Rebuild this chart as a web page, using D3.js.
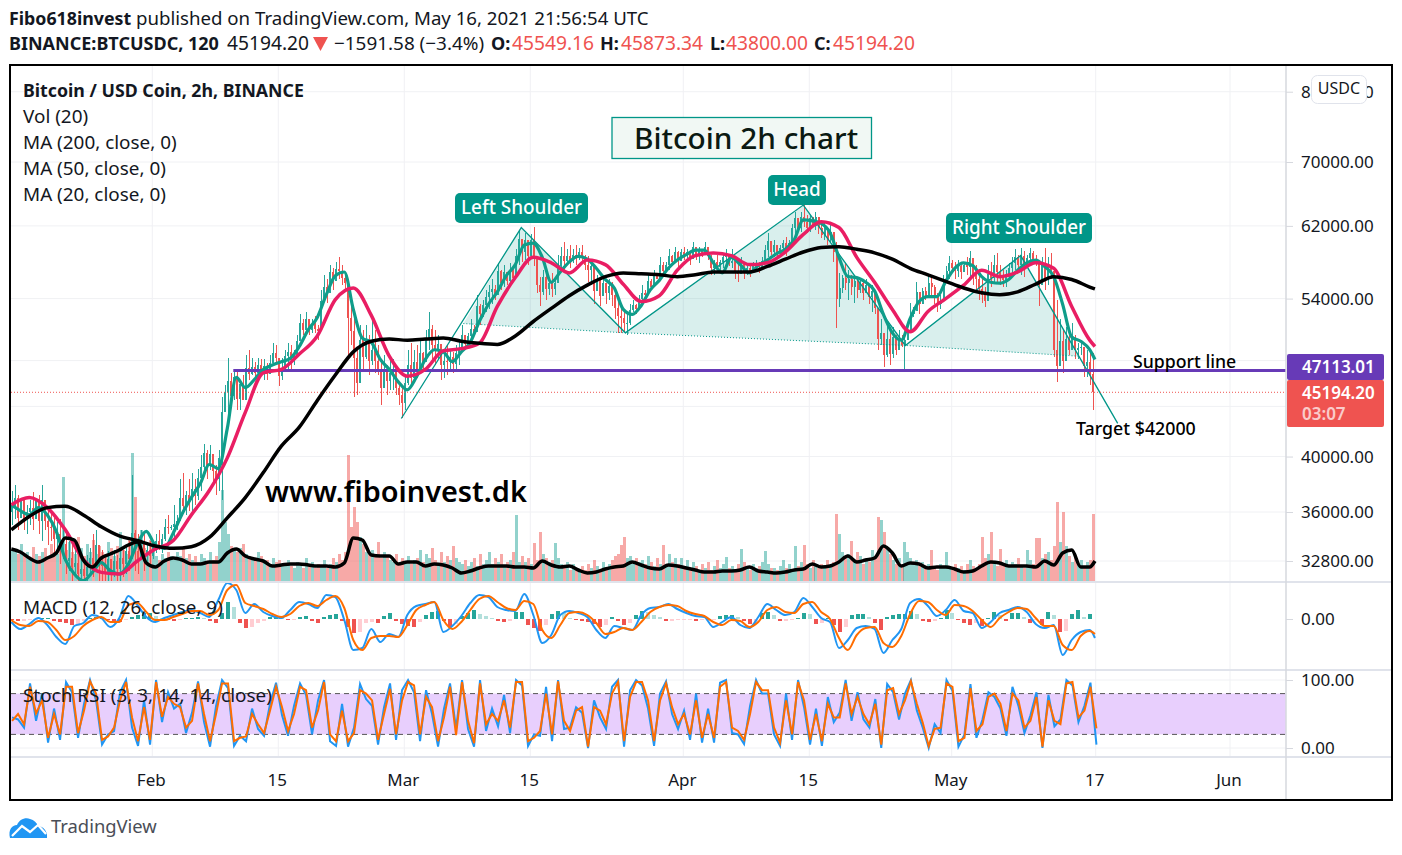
<!DOCTYPE html>
<html>
<head>
<meta charset="utf-8">
<script src="https://cdn.jsdelivr.net/npm/d3@7/dist/d3.min.js"></script>
<style>
  body { margin: 0; background: #fff; }
  text { font-family: "Noto Sans", sans-serif; fill: #131722; }
  .axis text { font-size: 17px; }
  .axis line { stroke: #d6d8de; }
  .axis path { display: none; }
</style>
</head>
<body>
<div id="chart"></div>
<script>
// all prices in thousand USD, one candle every 8 hours from chartStart
const candleClose = [
  36.4,37.0,35.6,36.8,35.5,36.0,36.3,35.5,36.9,35.4,36.8,35.4,35.0,34.9,34.2,34.5,33.6,33.9,32.8,33.0,32.4,32.7,32.0,32.3,31.9,32.4,33.0,32.5,33.8,32.7,
  32.5,32.0,32.9,32.1,32.8,32.3,33.0,32.6,33.4,32.9,34.6,33.4,32.9,34.1,33.2,33.5,33.1,33.7,34.1,33.7,34.2,35.0,34.9,35.0,35.2,35.4,37.0,36.4,37.2,36.8,
  37.6,37.1,38.4,39.2,40.3,39.3,40.2,38.9,38.3,39.9,43.5,45.2,46.2,44.9,46.5,44.6,45.9,44.5,47.3,46.8,47.4,46.9,47.6,47.0,47.5,46.8,47.8,48.7,48.2,46.6,
  47.3,48.4,48.8,48.2,48.4,49.8,51.6,50.9,51.9,50.9,51.5,51.0,50.8,53.8,55.2,54.6,56.8,55.8,57.1,56.9,56.2,55.6,52.0,50.8,48.2,46.0,49.9,48.3,49.8,48.0,
  49.0,48.0,47.2,45.6,47.0,46.2,46.9,47.0,45.6,45.0,44.3,46.0,47.6,46.4,47.9,47.1,48.7,47.9,50.0,51.0,49.4,49.0,49.5,47.6,48.0,47.9,48.3,47.7,48.7,49.0,
  50.4,49.5,50.3,51.0,50.7,53.2,52.4,53.3,54.2,54.7,55.0,54.4,56.9,55.6,56.8,55.8,57.0,56.2,58.6,60.5,59.0,60.4,58.6,60.4,58.2,55.4,54.7,56.3,55.0,55.6,
  55.0,55.6,57.5,58.6,58.0,58.6,58.0,58.7,58.3,59.0,58.4,57.6,57.0,57.5,54.8,56.0,54.3,55.6,54.6,55.3,54.4,53.0,52.2,52.0,51.6,51.6,52.8,53.3,52.9,54.0,
  54.6,54.4,55.8,55.2,56.4,56.1,57.6,56.9,57.6,58.6,57.9,59.0,58.0,59.0,58.5,59.0,58.2,59.6,58.6,59.2,58.7,59.6,58.5,57.2,57.9,57.3,57.9,58.4,58.6,57.8,
  58.0,56.9,56.6,57.9,56.9,57.2,56.9,57.4,57.7,57.3,58.0,59.2,60.2,59.0,59.8,59.0,59.4,60.0,59.2,60.0,61.7,62.9,61.8,63.0,62.4,61.7,62.9,62.0,63.1,61.8,
  60.9,61.8,60.4,61.3,59.0,54.0,55.1,56.2,55.6,56.0,55.2,55.8,54.9,55.6,54.6,55.4,54.2,54.8,53.0,50.0,50.6,48.5,50.0,48.6,50.2,49.0,50.0,49.4,49.9,50.8,
  52.4,52.7,54.7,53.4,54.8,54.2,55.6,55.2,54.2,53.4,53.9,55.9,56.9,57.8,57.2,56.9,57.4,56.8,57.6,57.3,58.3,56.5,56.0,55.0,54.4,53.8,56.6,56.2,57.6,56.8,
  56.2,55.9,56.3,57.2,57.8,58.4,57.6,58.6,57.5,58.3,58.9,58.2,58.0,55.4,57.8,56.2,57.4,56.9,49.0,47.5,49.8,48.0,50.0,49.0,50.1,49.0,49.2,49.3,47.5,47.9,
  46.8,45.2
];
const candleHigh = [
  37.5,37.9,37.2,36.8,37.0,36.5,36.8,37.4,37.0,37.2,37.9,36.8,36.1,35.9,35.6,35.3,35.5,34.8,34.5,34.1,33.8,33.5,33.2,33.0,32.9,33.2,33.6,34.5,34.8,33.8,
  33.5,33.2,33.4,32.9,33.5,33.2,33.4,33.5,33.8,34.1,38.6,34.8,34.5,34.8,34.5,33.8,34.1,34.1,34.5,34.8,34.5,35.5,35.8,35.1,36.5,35.8,38.3,38.8,37.5,38.3,
  38.8,38.3,39.1,40.1,41.0,40.5,40.9,39.7,39.4,40.5,44.8,45.8,48.2,46.9,47.0,47.2,46.3,46.7,48.5,49.0,48.2,47.9,48.2,48.1,48.1,47.8,48.5,49.6,49.4,48.1,
  48.2,49.0,49.6,49.4,49.0,50.4,52.4,51.9,52.6,51.4,51.9,52.2,51.4,54.9,56.5,56.0,57.6,57.2,57.9,58.4,57.6,56.8,56.0,53.9,52.9,49.3,51.4,50.9,51.4,50.4,
  51.9,50.9,49.4,48.1,48.5,47.6,48.3,48.1,46.7,45.8,45.7,46.7,49.0,49.6,49.0,49.4,49.9,48.8,50.9,52.6,51.4,50.9,50.4,49.4,49.0,49.4,49.0,48.8,49.4,49.9,
  51.4,50.4,50.6,51.9,51.4,54.4,53.4,53.9,54.9,55.4,56.0,55.4,57.8,57.0,57.6,56.8,57.8,57.6,59.3,61.5,60.4,61.2,59.8,61.0,61.9,57.6,56.3,57.0,56.5,56.0,
  56.7,56.0,58.7,59.6,60.1,59.3,59.8,59.3,59.8,59.5,59.8,58.7,58.5,58.1,57.6,56.5,56.3,56.5,55.4,56.0,55.7,54.9,53.9,53.6,52.9,52.6,53.4,53.9,53.4,54.4,
  55.4,54.9,56.5,56.0,57.0,56.5,58.4,57.9,57.9,59.3,58.7,59.6,59.1,59.3,59.6,59.3,59.1,60.1,59.3,59.6,59.3,60.1,59.3,58.7,58.1,58.7,58.1,58.7,59.3,58.7,
  59.3,58.4,57.9,58.4,57.6,57.6,57.4,57.9,58.1,57.9,58.4,59.8,61.2,59.8,60.4,59.8,59.8,60.4,60.7,60.4,62.2,63.6,62.2,63.6,64.8,63.3,63.3,63.0,63.7,62.7,
  62.5,62.5,61.9,62.2,61.0,60.1,56.7,56.5,57.8,57.0,56.5,56.3,56.0,56.1,55.7,56.0,55.4,55.4,53.9,52.2,51.9,50.2,51.4,50.9,51.2,50.4,50.9,50.4,50.6,51.4,
  53.6,53.1,55.7,54.4,55.1,55.2,56.5,56.5,55.4,54.6,54.4,56.5,57.4,58.5,58.1,57.9,58.1,57.6,57.9,58.4,59.1,57.6,57.6,56.7,56.0,55.2,57.6,57.9,58.7,58.9,
  57.6,57.0,57.0,57.8,58.4,59.3,58.7,59.5,59.1,58.7,59.5,59.1,58.7,57.8,58.4,59.5,58.4,58.9,56.3,53.9,51.9,50.9,51.2,50.4,51.6,50.4,49.6,49.9,49.3,49.0,
  49.0,48.7
];
const candleLow = [
  35.1,35.5,34.8,35.6,34.8,34.5,35.1,34.8,35.5,34.5,34.1,34.8,33.8,34.1,33.2,33.5,32.6,32.9,32.0,32.2,31.6,31.8,31.3,31.6,31.0,31.3,32.0,31.8,32.6,31.6,
  31.5,31.3,31.6,31.3,31.8,31.5,31.6,31.8,32.0,32.2,32.9,32.2,32.0,32.9,32.2,32.7,32.6,32.9,33.3,33.5,33.3,34.1,34.5,34.8,34.1,34.8,35.9,36.1,35.8,36.1,
  36.1,36.5,36.8,37.5,38.8,38.3,39.0,37.9,37.2,37.5,36.8,45.1,43.4,43.9,44.5,43.7,43.7,45.0,44.8,46.3,46.7,46.4,46.5,46.7,46.3,46.3,47.2,47.8,47.6,45.7,
  46.3,47.0,47.0,47.2,47.6,49.0,49.9,50.4,50.6,50.4,50.6,50.6,49.9,52.6,53.9,53.6,55.4,54.9,56.0,56.0,55.4,54.9,48.3,49.4,44.8,45.0,47.8,47.2,48.1,46.7,
  47.6,46.9,46.7,44.1,45.8,45.0,45.4,45.4,45.0,44.1,43.0,43.7,45.8,45.7,46.7,46.4,46.9,47.2,49.0,49.0,48.1,47.6,48.1,46.3,46.4,46.7,47.0,46.9,47.2,47.6,
  49.0,49.3,49.4,49.9,50.4,50.9,51.4,52.1,52.6,52.9,53.4,53.9,54.6,54.9,55.2,55.4,55.4,56.0,57.0,57.6,57.9,58.1,57.6,58.7,57.4,54.6,53.2,54.4,53.9,54.4,
  54.2,54.4,56.5,57.0,56.7,57.6,57.2,57.8,57.6,58.1,57.8,57.0,55.7,55.4,53.4,54.9,53.2,54.4,53.4,53.9,53.2,51.9,50.6,50.6,50.7,50.4,51.4,52.6,52.4,53.6,
  53.6,53.9,54.6,54.9,55.4,56.0,56.3,56.5,57.0,57.0,57.6,58.1,57.0,58.4,58.1,57.9,57.6,58.4,58.1,57.8,58.4,58.7,58.1,56.5,56.5,57.0,56.7,57.2,57.6,57.4,
  57.2,56.0,55.7,56.8,56.1,56.5,56.3,56.7,57.0,56.7,57.6,57.8,58.4,58.7,58.4,58.5,58.7,59.1,58.5,59.3,60.7,61.0,61.5,61.3,61.9,61.2,61.3,61.9,61.5,61.0,
  60.6,60.4,59.8,60.1,57.9,51.1,53.1,54.6,54.9,53.9,54.4,53.6,54.1,54.6,53.9,54.6,53.4,52.6,52.4,49.0,49.4,47.4,48.3,47.6,48.2,48.5,49.0,49.3,47.0,50.1,
  51.6,52.1,52.9,52.4,53.6,53.9,54.2,54.2,53.4,52.6,52.9,54.9,56.0,56.1,56.8,56.0,56.3,56.0,56.8,56.5,56.3,55.4,54.7,53.9,53.6,53.1,55.7,55.2,55.7,55.7,
  55.4,55.2,55.2,56.0,56.5,57.0,56.7,56.5,56.3,57.6,57.4,57.9,57.4,53.2,55.4,54.9,55.4,56.0,48.3,46.1,48.3,46.9,49.0,48.5,49.0,48.1,48.1,48.5,46.5,46.5,
  45.8,43.7
];
const volume = [
  32,30,28,38,26,30,24,35,28,26,30,34,25,38,30,28,36,105,32,40,30,28,45,34,26,38,30,42,28,36,
  30,28,40,34,26,36,50,32,28,44,129,85,40,52,34,30,42,36,26,22,28,24,30,26,22,30,26,34,24,28,
  22,26,20,28,24,18,30,22,26,40,92,60,48,36,32,30,34,38,28,26,22,24,30,26,20,22,18,24,20,22,
  18,16,22,16,14,20,18,14,24,16,20,14,18,16,22,14,18,24,20,28,22,30,127,55,75,60,45,38,30,28,
  32,26,40,24,30,26,22,20,28,18,24,20,26,18,22,24,32,20,28,24,34,22,18,30,20,26,22,36,24,20,
  18,22,16,20,24,16,28,18,22,30,18,24,20,28,16,20,22,30,67,20,26,20,24,18,39,22,50,28,24,20,
  22,39,24,18,14,20,12,18,14,10,16,12,18,14,22,16,12,20,14,18,22,26,28,37,45,24,26,18,24,20,
  22,18,26,20,16,24,18,37,16,28,20,24,18,24,16,22,14,20,16,12,18,14,20,12,16,22,14,18,25,14,
  16,12,18,33,20,14,12,18,14,16,20,31,18,14,14,12,16,22,14,18,12,36,16,20,37,18,14,22,16,14,
  18,14,22,16,20,68,48,30,24,28,41,22,30,26,18,24,20,32,26,65,62,50,35,28,22,18,24,16,40,30,
  24,18,22,16,20,14,18,32,16,12,18,14,30,14,12,18,14,16,12,18,22,16,14,18,45,24,28,50,20,16,
  33,18,22,16,20,18,24,16,14,32,22,18,44,44,24,28,30,22,36,80,40,70,36,26,20,24,18,22,16,20,
  22,68
];
// moving averages: ma20 and volMa one point a day, ma50 and ma200 one every two days, last point is the live bar
const ma20 = [
  36.5,36.1,35.8,36.3,35.8,34.7,32.9,32.0,31.6,32.1,32.7,32.2,32.0,32.6,33.9,34.7,33.8,33.6,34.6,35.9,
  37.0,38.0,39.4,39.1,42.2,46.5,45.6,46.3,47.2,47.6,47.9,48.2,49.3,50.9,52.1,54.4,56.4,56.8,52.9,50.1,
  49.7,48.1,47.2,46.1,45.4,46.5,48.1,49.0,48.8,47.9,48.8,49.7,51.7,53.4,54.7,56.4,57.6,59.8,60.0,58.4,
  55.7,56.8,57.9,58.5,58.2,57.2,56.0,55.1,52.9,52.4,53.3,54.9,55.9,57.2,58.1,58.7,59.2,59.2,57.8,56.7,
  58.4,57.6,56.7,57.5,58.1,58.8,59.3,60.4,62.7,62.6,62.3,61.2,58.4,56.3,56.2,55.7,54.8,52.4,50.6,49.9,
  52.0,53.7,54.2,54.2,55.8,57.2,57.8,57.5,56.3,55.7,55.6,56.0,57.0,57.8,58.1,57.4,56.3,53.4,50.2,49.8,49.0,48.1
];
const ma50 = [
  36.5,37.0,36.3,34.8,32.9,32.1,32.0,32.8,33.55,34.1,
  35.8,37.5,39.9,43.5,46.9,47.2,48.6,50.3,53.9,55.1,
  52.3,48.4,46.6,47.2,48.9,49.1,49.6,53.2,56.2,58.4,
  57.8,56.7,58.1,57.6,55.5,53.7,54.3,57.0,58.6,58.9,
  58.6,57.6,57.8,59.0,61.0,62.5,61.8,58.4,55.7,52.9,
  50.7,52.7,54.0,55.4,57.0,56.3,56.8,57.8,57.2,53.2,49.9,49.3
];
const ma200 = [
  34.8,35.7,36.3,36.4,35.8,35.0,34.4,34.1,33.75,33.6,
  33.7,34.3,35.6,37.0,38.8,40.8,42.3,44.5,46.7,48.8,
  49.8,50.0,49.9,50.0,50.1,49.8,49.6,49.5,50.3,51.7,
  53.0,54.3,55.4,56.3,56.7,56.6,56.5,56.3,56.5,56.8,
  56.8,56.8,57.4,58.2,59.0,59.5,59.6,59.3,58.9,58.2,
  57.2,56.5,55.8,55.1,54.6,54.4,54.7,55.5,56.3,56.0,55.2,55.0
];
const volMa = [
  33,30,24,20,24,29,44,42,22,15,24,28,32,37,40,19,15,21,24,22,
  18,18,20,20,29,33,26,23,21,16,17,18,18,17,16,16,15,19,44,42,
  27,26,26,18,20,20,16,18,17,14,9,11,14,16,16,16,15,15,14,21,
  17,15,16,12,9,10,13,15,16,20,17,14,13,17,16,14,12,10,10,11,
  11,12,15,11,10,9,10,12,13,18,15,16,20,26,20,22,24,36,29,16,
  19,18,14,15,15,13,10,11,16,20,19,16,16,16,15,21,17,29,32,15,15,21
];
// macd pane, one point a day for the lines
const macdLine = [
  -150,-500,-250,50,-300,-900,-1250,-350,-200,200,50,-400,50,1150,700,100,-150,50,200,350,
  450,300,100,950,1800,1450,300,750,350,150,50,450,850,750,550,1200,1100,-50,-1550,-1450,
  -500,-1150,-750,-900,200,650,750,850,-650,-350,150,800,1200,1100,600,450,400,1250,200,-1200,
  -800,200,400,300,100,-550,-950,-350,-450,-550,200,550,600,750,500,300,150,100,-400,-150,
  100,-300,-450,100,750,450,200,350,1050,600,50,-150,-1450,-1050,-450,-350,-500,-1700,-1050,-500,
  800,1000,650,150,450,950,400,300,-450,-150,300,450,600,350,-250,-450,-300,-1800,-1050,-650,-550,-950
];
const macdSignal = [
  -50,-300,-350,-100,-150,-550,-1050,-850,-350,-50,100,-150,-150,700,800,350,-50,-50,100,250,
  400,400,200,450,1450,1700,800,650,500,250,100,250,650,800,650,950,1150,550,-1050,-1550,
  -950,-850,-850,-900,-300,450,700,850,-50,-500,-150,450,1000,1150,850,550,450,900,750,-550,
  -950,-300,300,350,200,-200,-750,-650,-450,-550,-150,350,600,700,650,400,250,150,-150,-300,
  -50,-100,-400,-150,450,600,350,300,750,850,350,0,-950,-1550,-800,-450,-400,-1200,-1400,-850,
  250,900,850,450,200,700,650,400,-50,-400,50,350,550,500,50,-350,-350,-1300,-1550,-850,-600,-750
];
// histogram and stoch rsi are read every 16 hours
const macdHist = [
  -50,-100,-100,-50,-50,50,50,-100,-150,-200,-300,-250,-100,50,100,
  100,-50,-100,-150,-50,100,200,300,300,150,50,-50,-100,-50,50,
  50,100,50,-100,-200,300,850,600,-200,-450,-400,-200,-100,100,150,
  100,-50,-50,100,150,-100,-200,100,200,250,-100,-400,-700,-650,-200,
  -150,-200,150,300,-100,-250,-350,-400,-150,200,350,400,-100,-400,-250,
  150,300,450,250,150,50,-100,-150,-100,350,350,-300,-450,-600,-300,
  250,400,300,50,-50,-100,-150,-250,-400,-300,100,-100,-300,-200,200,
  400,350,200,100,-100,-100,-50,-50,-50,-100,-50,-50,-50,150,200,
  200,100,-100,-250,-200,300,350,200,-100,-100,-50,50,300,250,-250,
  -200,50,-300,-650,-400,200,250,250,100,-200,-550,100,200,250,250,
  400,250,-100,-150,-100,50,450,300,-50,-200,-300,-200,-350,50,350,
  200,-100,300,300,100,-200,-50,-300,350,200,-650,-600,250,450,100,250
];
const stochK = [
  45,42,30,95,40,80,8,58,12,97,82,15,65,100,70,5,20,25,82,100,
  30,3,70,5,100,38,82,58,65,22,52,98,38,2,62,100,88,3,18,10,
  58,28,18,65,96,48,18,62,95,78,20,70,100,10,3,65,2,30,94,72,
  62,5,60,95,12,85,100,82,10,85,50,2,58,95,
  28,100,28,2,100,25,58,32,78,22,100,92,3,20,18,90,10,100,28,30,
  60,52,0,70,45,28,90,100,2,85,100,92,58,3,80,98,50,28,55,12,
  80,8,58,8,96,100,22,20,6,62,100,80,80,20,3,80,12,100,
  60,5,58,3,75,38,52,100,40,82,42,30,72,0,94,82,42,80,100,55,
  30,0,35,22,100,84,2,20,94,15,42,82,75,58,18,90,62,22,48,82,
  0,78,32,42,100,92,38,62,96,5
];
const stochD = [
  40,50,35,90,51,70,15,50,20,90,90,22,55,98,80,12,17,30,70,97,
  45,10,60,12,97,46,75,65,60,30,40,95,50,10,50,95,95,10,15,17,
  50,35,22,55,90,60,25,50,90,85,30,55,97,20,10,55,10,22,85,80,
  70,12,50,87,20,70,97,92,20,75,60,10,45,90,
  19,97,40,7,95,35,50,40,70,30,97,97,10,15,25,80,20,98,40,25,
  55,60,2,60,55,35,80,97,10,75,97,97,70,10,70,95,60,35,50,20,
  70,15,50,15,90,97,30,25,12,50,97,85,85,30,8,70,20,97,
  70,12,50,10,65,45,45,95,50,75,50,35,65,5,85,88,50,70,98,65,
  37,3,28,30,95,90,10,15,88,25,35,75,80,65,25,80,70,30,40,75,
  2,70,40,35,95,97,45,55,90,29
];
// head and shoulders drawing
const patternDates = ['2021-02-28T16:00Z','2021-03-14T00:00Z','2021-03-25T13:30Z','2021-04-14T08:00Z','2021-04-25T19:00Z','2021-05-08T16:00Z','2021-05-19T11:00Z'];
const patternPrices = [43.0,61.8,50.6,64.5,49.4,58.6,42.6];
const neckDates = ['2021-03-07T13:30Z','2021-03-25T13:30Z','2021-04-25T19:00Z','2021-05-15T03:00Z'];
const neckPrices = [51.5,50.6,49.4,48.4];

const priceTicks = [32.8,36,40,54,62,70,80];
const priceGrid = [32.8,36,40,44,48,54,62,70,80];
const timeTicks = ['2021-02-01','2021-02-15','2021-03-01','2021-03-15','2021-04-01','2021-04-15','2021-05-01','2021-05-17','2021-06-01'];
const timeLabels = ['Feb','15','Mar','15','Apr','15','May','17','Jun'];
const supportPrice = 47.11301;
const lastPrice = 45.1942;
const supportDates = ['2021-02-10','2021-06-07'];

const chartStart = new Date('2021-01-16T10:00Z');
const liveBar = new Date('2021-05-16T22:00Z');
const at = (i, hours) => d3.utcHour.offset(chartStart, i * hours);

const svg = d3.select('#chart').append('svg').attr('width', 1402).attr('height', 855);

// tradingview squeezes the last weeks a bit, so the time scale has several stops
const x = d3.scaleUtc()
  .domain(['2021-01-16','2021-02-01','2021-04-15','2021-05-01','2021-05-17','2021-06-01','2021-06-07'].map(d => new Date(d)))
  .range([8.3,152.3,809.3,951.7,1095.7,1230,1284]);
const yPrice = d3.scaleLog().domain([32.8,70]).range([561,162]);
const yVol = d3.scaleLinear().domain([0,130]).range([582,452]);
const yMacd = d3.scaleLinear().domain([-2550,1800]).range([670,583]);
const yStoch = d3.scaleLinear().domain([0,100]).range([748,680]);

const left = 11, right = 1286;
const defs = svg.append('defs');
const clip = (id, y0, y1) => defs.append('clipPath').attr('id', id).append('rect')
  .attr('x', left).attr('y', y0).attr('width', right - left).attr('height', y1 - y0);
clip('clipPrice', 66, 582);
clip('clipMacd', 583, 670);
clip('clipStoch', 671, 757);

// grid
const grid = svg.append('g').attr('stroke', '#f0f1f4');
grid.selectAll('.gy').data(priceGrid).enter().append('line')
  .attr('x1', left).attr('x2', right).attr('y1', d => yPrice(d)).attr('y2', d => yPrice(d));
grid.selectAll('.gt').data(timeTicks).enter().append('line')
  .attr('x1', d => x(new Date(d))).attr('x2', d => x(new Date(d))).attr('y1', 66).attr('y2', 757);
grid.selectAll('.gs').data([0,100]).enter().append('line')
  .attr('x1', left).attr('x2', right).attr('y1', d => yStoch(d)).attr('y2', d => yStoch(d));

// price pane
const price = svg.append('g').attr('clip-path', 'url(#clipPrice)');
const isUp = i => candleClose[i] >= (i ? candleClose[i-1] : 36.0);
const upColor = '#26a69a', downColor = '#ef5350';

price.append('g').attr('shape-rendering', 'crispEdges').selectAll('rect').data(volume).enter().append('rect')
  .attr('x', (d, i) => x(at(i, 8)) - 1.5)
  .attr('y', d => yVol(d))
  .attr('width', 3)
  .attr('height', d => yVol(0) - yVol(d))
  .attr('fill', (d, i) => isUp(i) ? upColor : downColor)
  .attr('opacity', 0.5);

const patternPts = patternDates.map((d, i) => [x(new Date(d)), yPrice(patternPrices[i])]);
const neckPts = neckDates.map((d, i) => [x(new Date(d)), yPrice(neckPrices[i])]);
const shade = [
  [neckPts[0], patternPts[1], neckPts[1]],
  [neckPts[1], patternPts[3], neckPts[2]],
  [neckPts[2], patternPts[5], neckPts[3]]
];
price.append('g').selectAll('path').data(shade).enter().append('path')
  .attr('d', d => d3.line()(d) + 'Z')
  .attr('fill', '#009688')
  .attr('opacity', 0.15);

const candles = price.append('g').attr('shape-rendering', 'crispEdges');
candles.selectAll('line').data(candleClose).enter().append('line')
  .attr('x1', (d, i) => x(at(i, 8))).attr('x2', (d, i) => x(at(i, 8)))
  .attr('y1', (d, i) => yPrice(candleHigh[i])).attr('y2', (d, i) => yPrice(candleLow[i]))
  .attr('stroke', (d, i) => isUp(i) ? upColor : downColor)
  .attr('stroke-width', 1);
candles.selectAll('rect').data(candleClose).enter().append('rect')
  .attr('x', (d, i) => x(at(i, 8)) - 1)
  .attr('y', (d, i) => Math.min(yPrice(d), yPrice(i ? candleClose[i-1] : 36.0)))
  .attr('width', 2)
  .attr('height', (d, i) => Math.max(1, Math.abs(yPrice(d) - yPrice(i ? candleClose[i-1] : 36.0))))
  .attr('fill', (d, i) => isUp(i) ? upColor : downColor);

// pattern legs and neckline
price.append('path')
  .attr('d', d3.line()(patternPts))
  .attr('fill', 'none').attr('stroke', '#009688').attr('stroke-width', 1.3);
price.append('path')
  .attr('d', d3.line()(neckPts))
  .attr('fill', 'none').attr('stroke', '#009688').attr('stroke-width', 1).attr('stroke-dasharray', '1 2');

// support and last price
price.append('line')
  .attr('x1', x(new Date(supportDates[0]))).attr('x2', right)
  .attr('y1', yPrice(supportPrice)).attr('y2', yPrice(supportPrice))
  .attr('stroke', '#673ab7').attr('stroke-width', 3);
price.append('line')
  .attr('x1', left).attr('x2', right)
  .attr('y1', yPrice(lastPrice)).attr('y2', yPrice(lastPrice))
  .attr('stroke', '#ef5350').attr('stroke-width', 1).attr('stroke-dasharray', '1 2');

// moving averages
const maTimes = (n, hours) => d3.range(n - 1).map(i => d3.utcHour.offset(chartStart, i * hours - 2)).concat([liveBar]);
const maLine = d3.line().x(d => x(d[0])).y(d => yPrice(d[1])).curve(d3.curveMonotoneX);
const drawMa = (values, hours, color, width) => {
  const times = maTimes(values.length, hours);
  price.append('path')
    .attr('d', maLine(values.map((v, i) => [times[i], v])))
    .attr('fill', 'none').attr('stroke', color).attr('stroke-width', width);
};
drawMa(ma20, 24, '#0f9d8a', 3.2);
drawMa(ma50, 48, '#e91e63', 3.5);
drawMa(ma200, 48, '#000', 3.5);

const volTimes = maTimes(volMa.length, 24);
price.append('path')
  .attr('d', d3.line().x((d, i) => x(volTimes[i])).y(d => yVol(d)).curve(d3.curveMonotoneX)(volMa))
  .attr('fill', 'none').attr('stroke', '#000').attr('stroke-width', 3.5);

// macd pane
const macd = svg.append('g').attr('clip-path', 'url(#clipMacd)');
macd.append('g').attr('shape-rendering', 'crispEdges').selectAll('rect').data(macdHist).enter().append('rect')
  .attr('x', (d, i) => x(at(i, 16)) - 2)
  .attr('y', d => yMacd(Math.max(0, d)))
  .attr('width', 4)
  .attr('height', d => Math.abs(yMacd(d) - yMacd(0)))
  .attr('fill', (d, i) => {
    const prev = i ? macdHist[i-1] : 0;
    if (d >= 0) return d >= prev ? '#26a69a' : '#b2dfdb';
    return d < prev ? '#ef5350' : '#ffcdd2';
  });
const macdTimes = maTimes(macdLine.length, 24);
const drawMacd = (values, color) => macd.append('path')
  .attr('d', d3.line().x((d, i) => x(macdTimes[i])).y(d => yMacd(d)).curve(d3.curveMonotoneX)(values))
  .attr('fill', 'none').attr('stroke', color).attr('stroke-width', 2);
drawMacd(macdLine, '#2196f3');
drawMacd(macdSignal, '#ff6d00');

// stoch pane
const stoch = svg.append('g').attr('clip-path', 'url(#clipStoch)');
stoch.append('rect')
  .attr('x', left).attr('width', right - left)
  .attr('y', yStoch(80)).attr('height', yStoch(20) - yStoch(80))
  .attr('fill', '#e8cffd');
stoch.selectAll('.band').data([20,80]).enter().append('line')
  .attr('x1', left).attr('x2', right).attr('y1', d => yStoch(d)).attr('y2', d => yStoch(d))
  .attr('stroke', '#555').attr('stroke-dasharray', '5 4');
const drawStoch = (values, color) => stoch.append('path')
  .attr('d', d3.line().x((d, i) => x(at(i, 16))).y(d => yStoch(d))(values))
  .attr('fill', 'none').attr('stroke', color).attr('stroke-width', 2);
drawStoch(stochK, '#2196f3');
drawStoch(stochD, '#ff6d00');

// pane borders
const sep = svg.append('g').attr('stroke', '#e0e3eb').attr('stroke-width', 2);
sep.selectAll('line').data([582,670,757]).enter().append('line')
  .attr('x1', left).attr('x2', 1391).attr('y1', d => d).attr('y2', d => d);
svg.append('line').attr('x1', right).attr('x2', right).attr('y1', 66).attr('y2', 799)
  .attr('stroke', '#d6d8de').attr('stroke-width', 1.5);

// axes
const fmt = v => d3.format('.2f')(v);
svg.append('g').attr('class', 'axis').attr('transform', `translate(${right},0)`)
  .call(d3.axisRight(yPrice).tickValues(priceTicks).tickSize(7).tickPadding(8).tickFormat(d => fmt(d * 1000)));
svg.append('g').attr('class', 'axis').attr('transform', `translate(${right},0)`)
  .call(d3.axisRight(yMacd).tickValues([0]).tickSize(7).tickPadding(8).tickFormat(fmt));
svg.append('g').attr('class', 'axis').attr('transform', `translate(${right},0)`)
  .call(d3.axisRight(yStoch).tickValues([0,100]).tickSize(7).tickPadding(8).tickFormat(fmt));
svg.append('g').attr('class', 'axis').attr('transform', 'translate(0,757)')
  .call(d3.axisBottom(x).tickValues(timeTicks.map(d => new Date(d))).tickSize(0).tickPadding(17)
    .tickFormat((d, i) => timeLabels[i]))
  .selectAll('text').attr('dx', -1.5);

// price labels
const tag = (y, h, color) => svg.append('rect').attr('x', 1287).attr('y', y).attr('width', 97).attr('height', h).attr('rx', 2).attr('fill', color);
tag(354, 26, '#673ab7');
tag(380, 47, '#ef5350');
const tagText = (y, s, opacity) => svg.append('text').attr('x', 1302).attr('y', y).text(s)
  .style('fill', '#fff').style('font-size', '17px').style('font-weight', 600).attr('opacity', opacity);
tagText(373, '47113.01', 1);
tagText(399, '45194.20', 1);
tagText(420, '03:07', 0.7);

svg.append('rect').attr('x', 1311.5).attr('y', 75.5).attr('width', 55).attr('height', 28).attr('rx', 6)
  .attr('fill', '#fff').attr('stroke', '#e0e3eb');
svg.append('text').attr('x', 1339).attr('y', 94).attr('text-anchor', 'middle').text('USDC').style('font-size', '16px');

// legends
const legend = [['Bitcoin / USD Coin, 2h, BINANCE', 97, 700, 17.75],['Vol (20)', 122.5, 400, 18.9],['MA (200, close, 0)', 148.5, 400, 18.9],['MA (50, close, 0)', 174.5, 400, 18.9],['MA (20, close, 0)', 200.5, 400, 18.9],['MACD (12, 26, close, 9)', 614, 400, 18.9],['Stoch RSI (3, 3, 14, 14, close)', 702, 400, 18.9]];
svg.append('g').selectAll('text').data(legend).enter().append('text')
  .attr('x', 23).attr('y', d => d[1]).text(d => d[0])
  .style('font-size', d => d[3] + 'px').style('font-weight', d => d[2]);

// drawn annotations
const note = (x0, y0, w, h, s) => {
  svg.append('rect').attr('x', x0).attr('y', y0).attr('width', w).attr('height', h).attr('rx', 5).attr('fill', '#009688');
  svg.append('text').attr('x', x0 + w / 2).attr('y', y0 + h / 2 + 6).attr('text-anchor', 'middle').text(s)
    .style('fill', '#fff').style('font-size', '18.9px').style('font-weight', 500);
};
note(455, 193, 133, 30, 'Left Shoulder');
note(768, 175, 58, 30, 'Head');
note(946, 213, 146, 30, 'Right Shoulder');

svg.append('rect').attr('x', 612).attr('y', 117.5).attr('width', 259.5).attr('height', 41)
  .attr('fill', '#f1f8f4').attr('stroke', '#009688').attr('stroke-width', 1.3);
svg.append('text').attr('x', 634).attr('y', 149).text('Bitcoin 2h chart')
  .style('font-size', '29.8px').style('font-weight', 500).style('fill', '#0b1a12');
svg.append('text').attr('x', 265).attr('y', 502).text('www.fiboinvest.dk')
  .style('font-size', '28.9px').style('font-weight', 600).style('fill', '#000');
svg.append('text').attr('x', 1133).attr('y', 368).text('Support line').style('font-size', '17.7px').style('font-weight', 500).style('fill', '#000');
svg.append('text').attr('x', 1076).attr('y', 435).text('Target $42000').style('font-size', '17.8px').style('font-weight', 500).style('fill', '#000');

// chart frame
svg.append('rect').attr('x', 10).attr('y', 65).attr('width', 1382).attr('height', 735)
  .attr('fill', 'none').attr('stroke', '#000').attr('stroke-width', 2);

// header lines
const head = svg.append('g');
const headText = (x0, y0, s, weight, color, size) => head.append('text').attr('x', x0).attr('y', y0).text(s)
  .style('font-weight', weight).style('fill', color).style('font-size', size + 'px');
headText(9, 25, 'Fibo618invest', 700, '#131722', 17.8);
headText(136, 25, 'published on TradingView.com, May 16, 2021 21:56:54 UTC', 400, '#131722', 18.65);
headText(9, 50, 'BINANCE:BTCUSDC, 120', 700, '#131722', 18);
headText(227, 50, '45194.20', 400, '#131722', 19.2);
head.append('path').attr('d', d3.line()([[313,37],[328,37],[320.5,51]]) + 'Z').attr('fill', '#ef5350');
headText(334, 50, '\u22121591.58 (\u22123.4%)', 400, '#131722', 18.9);
const ohlcLabels = ['O:','H:','L:','C:'];
const ohlcValues = ['45549.16','45873.34','43800.00','45194.20'];
const ohlcX = [491,600,710,814];
const ohlcValX = [512,621,726,833];
ohlcLabels.forEach((s, i) => {
  headText(ohlcX[i], 50, s, 700, '#131722', 18);
  headText(ohlcValX[i], 50, ohlcValues[i], 400, '#ef5350', 19.2);
});

// footer logo
const logo = svg.append('g');
logo.append('path')
  .attr('d', 'M10 838C8 830 12 825 17 825C19 820 25 817 30 819C34 820 37 823 38 826C43 826 48 831 47 838Z')
  .attr('fill', '#2196f3');
logo.append('path')
  .attr('d', 'M12 836L22 826L30 832L38 825L46 834')
  .attr('fill', 'none').attr('stroke', '#fff').attr('stroke-width', 2.2);
svg.append('text').attr('x', 51).attr('y', 833).text('TradingView').style('font-size', '18.4px').style('fill', '#4a4e57');
</script>
</body>
</html>
